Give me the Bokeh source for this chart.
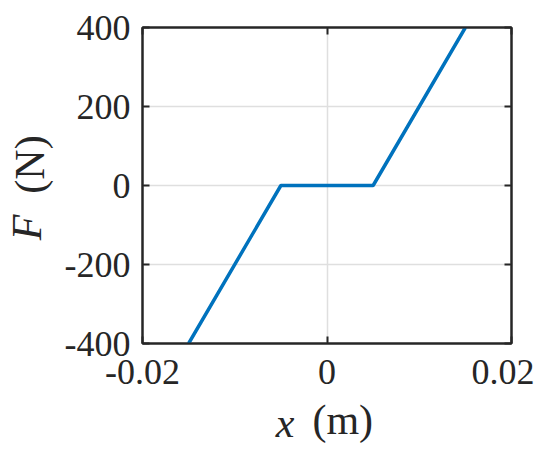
from bokeh.plotting import figure
from bokeh.models import FixedTicker, LinearAxis, Range1d
from bokeh.embed import file_html
from bokeh.resources import INLINE

# ---- data ----
x_pts = [-0.015, -0.005, 0.005, 0.015]
F_pts = [-400, 0, 0, 400]
x_ticks = [-0.02, 0, 0.02]
x_tick_labels = ["-0.02", "0", "0.02"]
y_ticks = [-400, -200, 0, 200, 400]
y_tick_labels = ["-400", "-200", "0", "200", "400"]
x_lim = (-0.02, 0.02)
y_lim = (-400, 400)
x_label_var, x_label_unit = "x", "(m)"
y_label_var, y_label_unit = "F", "(N)"

FONT = "Liberation Serif"
AX = "#262626"
TICK_FS = "36px"
LAB_FS = "42px"
NB = "\u00a0"  # non-breaking space used to shift label parts

p = figure(width=534, height=455, output_backend="svg", toolbar_location=None,
           x_range=Range1d(*x_lim), y_range=Range1d(*y_lim),
           min_border_left=140, min_border_right=23, min_border_top=27,
           min_border_bottom=112)
p.background_fill_color = "white"
p.border_fill_color = "white"
p.outline_line_color = AX
p.outline_line_width = 2
p.outline_line_alpha = 1

p.line(x_pts, F_pts, line_color="#0072BD", line_width=3.5)


def style_axis(ax, ticks, labels, show_labels=True, standoff=8):
    ax.ticker = FixedTicker(ticks=ticks)
    ax.major_label_overrides = dict(zip(ticks, labels))
    ax.axis_line_color = AX
    ax.axis_line_width = 2
    ax.major_tick_line_color = AX
    ax.major_tick_line_width = 2
    ax.major_tick_in = 7
    ax.major_tick_out = 0
    ax.minor_tick_line_color = None
    ax.major_label_text_font = FONT
    ax.major_label_text_color = AX
    ax.major_label_standoff = standoff
    ax.axis_label = None
    ax.axis_label_text_font = FONT
    ax.axis_label_text_font_size = LAB_FS
    ax.axis_label_text_color = AX
    ax.axis_label_text_font_style = "normal"
    ax.major_label_text_font_size = TICK_FS
    if not show_labels:
        # box-side axis: ticks only, labels not painted
        ax.major_label_text_color = None
        ax.major_label_text_font_size = "2px"
        ax.major_label_standoff = 0


def label_axis(ax):
    # an axis that only carries a label (no line, ticks or tick labels)
    ax.ticker = FixedTicker(ticks=[])
    ax.axis_line_color = None
    ax.major_tick_line_color = None
    ax.minor_tick_line_color = None
    ax.major_tick_in = 0
    ax.major_tick_out = 0
    ax.minor_tick_in = 0
    ax.minor_tick_out = 0
    ax.major_label_standoff = 0
    ax.axis_label_text_font = FONT
    ax.axis_label_text_font_size = LAB_FS
    ax.axis_label_text_color = AX
    ax.axis_label_text_font_style = "italic"


xa = p.xaxis[0]
ya = p.yaxis[0]
style_axis(xa, x_ticks, x_tick_labels, standoff=16)
style_axis(ya, y_ticks, y_tick_labels, standoff=12)
xa.axis_label = NB * 3 + x_label_unit
xa.axis_label_standoff = 10
ya.axis_label = NB * 4 + y_label_unit
ya.axis_label_standoff = 9

xb = LinearAxis(axis_label=x_label_var + NB * 8)
label_axis(xb)
xb.axis_label_standoff = -46
p.add_layout(xb, "below")

yb = LinearAxis(axis_label=y_label_var + NB * 8)
label_axis(yb)
yb.axis_label_standoff = -46
p.add_layout(yb, "left")

top = LinearAxis()
style_axis(top, x_ticks, x_tick_labels, show_labels=False)
p.add_layout(top, "above")
right = LinearAxis()
style_axis(right, y_ticks, y_tick_labels, show_labels=False)
p.add_layout(right, "right")

p.xgrid.ticker = FixedTicker(ticks=x_ticks)
p.ygrid.ticker = FixedTicker(ticks=y_ticks)
for g in (p.xgrid[0], p.ygrid[0]):
    g.grid_line_color = "#dfdfdf"
    g.grid_line_width = 1.5

open("out.html", "w").write(file_html(p, INLINE))
